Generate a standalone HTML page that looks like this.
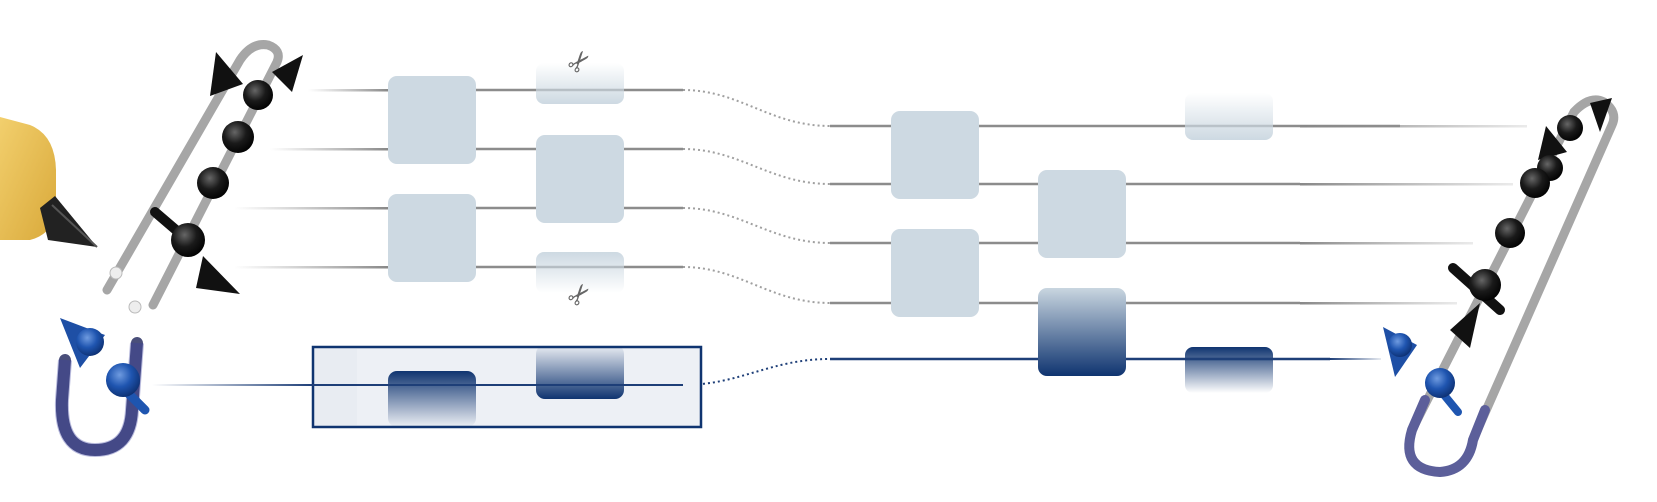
<!DOCTYPE html>
<html><head><meta charset="utf-8"><style>
html,body{margin:0;padding:0;background:#fff;}
svg{display:block;}
</style></head><body>
<svg width="1657" height="502" viewBox="0 0 1657 502" xmlns="http://www.w3.org/2000/svg">
<defs>
<linearGradient id="wl" x1="0" x2="1"><stop offset="0" stop-color="#999" stop-opacity="0"/><stop offset="1" stop-color="#888"/></linearGradient>
<linearGradient id="wr" x1="0" x2="1"><stop offset="0" stop-color="#888"/><stop offset="1" stop-color="#999" stop-opacity="0.2"/></linearGradient>
<linearGradient id="bl" x1="0" x2="1"><stop offset="0" stop-color="#1e3f78" stop-opacity="0"/><stop offset="1" stop-color="#1e3f78"/></linearGradient>
<linearGradient id="br" x1="0" x2="1"><stop offset="0" stop-color="#1e3f78"/><stop offset="1" stop-color="#1e3f78" stop-opacity="0.1"/></linearGradient>
<linearGradient id="fadeTop" x1="0" y1="0" x2="0" y2="1"><stop offset="0" stop-color="#cdd9e2" stop-opacity="0"/><stop offset="1" stop-color="#cdd9e2"/></linearGradient>
<linearGradient id="fadeBot" x1="0" y1="0" x2="0" y2="1"><stop offset="0" stop-color="#cdd9e2"/><stop offset="1" stop-color="#cdd9e2" stop-opacity="0"/></linearGradient>
<linearGradient id="darkTop" x1="0" y1="0" x2="0" y2="1"><stop offset="0" stop-color="#0f3470"/><stop offset="1" stop-color="#0f3470" stop-opacity="0"/></linearGradient>
<linearGradient id="darkBot" x1="0" y1="0" x2="0" y2="1"><stop offset="0" stop-color="#0f3470" stop-opacity="0"/><stop offset="1" stop-color="#0f3470"/></linearGradient>
<linearGradient id="lightDark" x1="0" y1="0" x2="0" y2="1"><stop offset="0" stop-color="#c9d6e0"/><stop offset="1" stop-color="#0f3470"/></linearGradient>
<radialGradient id="ball" cx="0.4" cy="0.35" r="0.7"><stop offset="0" stop-color="#666"/><stop offset="0.5" stop-color="#1a1a1a"/><stop offset="1" stop-color="#000"/></radialGradient>
<radialGradient id="bball" cx="0.4" cy="0.35" r="0.7"><stop offset="0" stop-color="#6f9be0"/><stop offset="0.5" stop-color="#1f55b0"/><stop offset="1" stop-color="#0c2e6e"/></radialGradient>
<linearGradient id="yel" x1="0" y1="0" x2="1" y2="1"><stop offset="0" stop-color="#f2cf6d"/><stop offset="1" stop-color="#d9a93a"/></linearGradient>
</defs>

<!-- yellow tool -->
<path d="M0,117 L30,125 Q55,135 56,170 L56,215 Q50,235 30,240 L0,240 Z" fill="url(#yel)"/>
<path d="M40,208 L55,196 L97,247 L48,240 Z" fill="#222"/>
<path d="M52,205 L97,247" stroke="#555" stroke-width="2"/>

<!-- left pin tube -->
<path d="M107,290 L240,60 Q252,42 268,45 Q282,50 277,62 L153,305" fill="none" stroke="#a6a6a6" stroke-width="9" stroke-linecap="round"/>
<circle cx="116" cy="273" r="6" fill="#eee" stroke="#bbb"/>
<circle cx="135" cy="307" r="6" fill="#eee" stroke="#bbb"/>
<!-- left atoms -->
<path d="M272,72 L303,55 L292,92 Z" fill="#111"/>
<path d="M216,52 L243,84 L210,96 Z" fill="#111"/>
<circle cx="258" cy="95" r="15" fill="url(#ball)"/>
<circle cx="238" cy="137" r="16" fill="url(#ball)"/>
<circle cx="213" cy="183" r="16" fill="url(#ball)"/>
<path d="M155,212 L190,242" stroke="#111" stroke-width="10" stroke-linecap="round"/>
<circle cx="188" cy="240" r="17" fill="url(#ball)"/>
<path d="M203,256 L240,294 L196,288 Z" fill="#111"/>

<!-- blue U left -->
<path d="M65,360 L62,400 Q60,450 95,450 Q130,450 132,410 L137,343" fill="none" stroke="#4a4f7a" stroke-width="12" stroke-linecap="round"/>
<path d="M65,360 L62,400 Q60,450 95,450 Q130,450 132,410 L137,343" fill="none" stroke="#3a3fa0" stroke-width="14" stroke-opacity="0.35"/>
<path d="M60,318 L105,335 L80,368 Z" fill="#1e4fa5"/>
<circle cx="90" cy="342" r="14" fill="url(#bball)"/>
<path d="M125,390 L145,410" stroke="#1e55b0" stroke-width="9" stroke-linecap="round"/>
<circle cx="123" cy="380" r="17" fill="url(#bball)"/>

<!-- left wires -->
<rect x="308" y="89" width="80" height="2.5" fill="url(#wl)"/>
<rect x="270" y="148" width="118" height="2.5" fill="url(#wl)"/>
<rect x="234" y="207" width="154" height="2.5" fill="url(#wl)"/>
<rect x="234" y="266" width="154" height="2.5" fill="url(#wl)"/>
<line x1="476" y1="90" x2="683" y2="90" stroke="#8c8c8c" stroke-width="2.5"/>
<line x1="476" y1="149" x2="683" y2="149" stroke="#8c8c8c" stroke-width="2.5"/>
<line x1="476" y1="208" x2="683" y2="208" stroke="#8c8c8c" stroke-width="2.5"/>
<line x1="476" y1="267" x2="683" y2="267" stroke="#8c8c8c" stroke-width="2.5"/>
<!-- dotted curves -->
<g fill="none" stroke="#a0a0a0" stroke-width="2" stroke-dasharray="2,3">
<path d="M683,90 C740,90 770,126 830,126"/>
<path d="M683,149 C740,149 770,184 830,184"/>
<path d="M683,208 C740,208 770,243 830,243"/>
<path d="M683,267 C740,267 770,303 830,303"/>
</g>
<path d="M683,385 C740,385 770,359 830,359" fill="none" stroke="#1e3f78" stroke-width="2" stroke-dasharray="2,3"/>

<!-- blue region box -->
<rect x="313" y="347" width="388" height="80" fill="#e8ecf2" stroke="#0f3470" stroke-width="2.5"/>
<rect x="357" y="349" width="342" height="76" fill="#edf0f5"/>
<rect x="152" y="384" width="161" height="2" fill="url(#bl)"/>
<line x1="313" y1="385" x2="683" y2="385" stroke="#1e3f78" stroke-width="2"/>

<!-- col1 gates -->
<rect x="388" y="76" width="88" height="88" rx="9" fill="#cdd9e2"/>
<rect x="388" y="194" width="88" height="88" rx="9" fill="#cdd9e2"/>
<rect x="388" y="371" width="88" height="56" rx="9" fill="url(#darkTop)"/>
<line x1="388" y1="385" x2="476" y2="385" stroke="#1e3f78" stroke-width="2"/>
<!-- col2 gates -->
<rect x="536" y="63" width="88" height="41" rx="8" fill="url(#fadeTop)"/>
<rect x="536" y="135" width="88" height="88" rx="9" fill="#cdd9e2"/>
<rect x="536" y="252" width="88" height="41" rx="8" fill="url(#fadeBot)"/>
<rect x="536" y="345" width="88" height="54" rx="9" fill="url(#darkBot)"/>
<line x1="536" y1="385" x2="624" y2="385" stroke="#1e3f78" stroke-width="2"/>
<text x="580" y="71" font-family="DejaVu Sans, sans-serif" font-size="28" font-weight="bold" fill="#666" text-anchor="middle" transform="rotate(-50 580 62)">✂</text>
<text x="580" y="304" font-family="DejaVu Sans, sans-serif" font-size="28" font-weight="bold" fill="#666" text-anchor="middle" transform="rotate(-50 580 295)">✂</text>

<!-- right wires -->
<line x1="830" y1="126" x2="1400" y2="126" stroke="#8c8c8c" stroke-width="2.5"/>
<rect x="1300" y="125" width="227" height="2.5" fill="url(#wr)"/>
<line x1="830" y1="184" x2="1300" y2="184" stroke="#8c8c8c" stroke-width="2.5"/>
<rect x="1300" y="183" width="213" height="2.5" fill="url(#wr)"/>
<line x1="830" y1="243" x2="1300" y2="243" stroke="#8c8c8c" stroke-width="2.5"/>
<rect x="1300" y="242" width="173" height="2.5" fill="url(#wr)"/>
<line x1="830" y1="303" x2="1300" y2="303" stroke="#8c8c8c" stroke-width="2.5"/>
<rect x="1300" y="302" width="157" height="2.5" fill="url(#wr)"/>
<line x1="830" y1="359" x2="1330" y2="359" stroke="#1e3f78" stroke-width="2.5"/>
<rect x="1330" y="358" width="51" height="2" fill="url(#br)"/>

<!-- right gates -->
<rect x="891" y="111" width="88" height="88" rx="9" fill="#cdd9e2"/>
<rect x="891" y="229" width="88" height="88" rx="9" fill="#cdd9e2"/>
<rect x="1038" y="170" width="88" height="88" rx="9" fill="#cdd9e2"/>
<rect x="1038" y="288" width="88" height="88" rx="9" fill="url(#lightDark)"/>
<rect x="1185" y="93" width="88" height="47" rx="8" fill="url(#fadeTop)"/>
<rect x="1185" y="347" width="88" height="46" rx="8" fill="url(#darkTop)"/>
<line x1="1185" y1="359" x2="1273" y2="359" stroke="#1e3f78" stroke-width="2"/>

<!-- right pin -->
<path d="M1412,430 L1574,112 Q1590,95 1604,102 Q1618,112 1612,125 L1473,440" fill="none" stroke="#a6a6a6" stroke-width="9" stroke-linecap="round"/>
<path d="M1425,400 L1412,430 Q1400,470 1440,472 Q1468,470 1473,440 L1485,410" fill="none" stroke="#5c5f9a" stroke-width="10" stroke-linecap="round"/>
<path d="M1450,330 L1480,303 L1470,348 Z" fill="#111"/>
<path d="M1590,103 L1612,98 L1600,132 Z" fill="#111"/>
<path d="M1546,126 L1567,152 L1538,160 Z" fill="#111"/>
<circle cx="1570" cy="128" r="13" fill="url(#ball)"/>
<circle cx="1550" cy="168" r="13" fill="url(#ball)"/>
<circle cx="1535" cy="183" r="15" fill="url(#ball)"/>
<circle cx="1510" cy="233" r="15" fill="url(#ball)"/>
<path d="M1453,268 L1500,310" stroke="#111" stroke-width="10" stroke-linecap="round"/>
<circle cx="1485" cy="285" r="16" fill="url(#ball)"/>
<path d="M1383,327 L1417,345 L1395,377 Z" fill="#1e4fa5"/>
<circle cx="1400" cy="345" r="12" fill="url(#bball)"/>
<path d="M1440,390 L1458,412" stroke="#1e55b0" stroke-width="8" stroke-linecap="round"/>
<circle cx="1440" cy="383" r="15" fill="url(#bball)"/>
</svg>
</body></html>
